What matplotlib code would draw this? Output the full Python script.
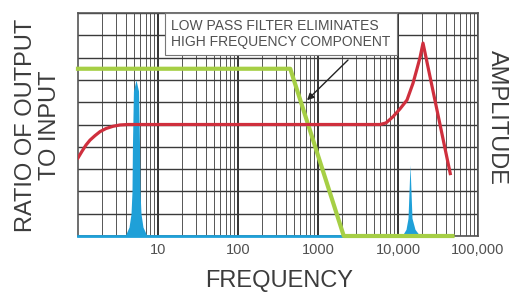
import numpy as np
import matplotlib
matplotlib.use("Agg")
import matplotlib.pyplot as plt
from matplotlib.ticker import FixedLocator, NullFormatter

plt.rcParams["font.family"] = ["Liberation Sans", "DejaVu Sans"]

# low pass filter response (green)
green_freq = [1, 450, 2100, 48000]
green_val = [7.5, 7.5, 0.0, 0.0]

# ratio curve (red)
red_freq = [1.0, 1.122, 1.259, 1.413, 1.63, 1.884, 2.24, 2.74, 3.35, 4.22,
            5960, 7080, 8660, 10590, 12960, 15400, 17280, 18840, 20540, 45000]
red_val = [3.5, 3.8, 4.08, 4.3, 4.5, 4.68, 4.82, 4.92, 4.98, 5.0,
           5.0, 5.07, 5.35, 5.7, 6.1, 6.85, 7.5, 8.0, 8.65, 2.8]

# low frequency component (blue spike)
peak1_freq = [3.87, 4.34, 4.60, 4.73, 4.79, 4.93, 5.31, 5.71, 5.88, 5.96, 6.13, 6.49, 7.30]
peak1_val = [0.0, 0.4, 1.0, 2.0, 4.0, 6.5, 7.0, 6.5, 4.0, 2.0, 1.0, 0.4, 0.0]

# high frequency component (blue spike)
peak2_freq = [11220, 12590, 13340, 13730, 14130, 14540, 14960, 16310, 18840]
peak2_val = [0.0, 0.3, 0.8, 2.0, 3.2, 2.0, 0.8, 0.3, 0.0]

baseline_freq = [1, 48000]
baseline_val = [0, 0]

tick_pos = [10, 100, 1000, 10000, 100000]
tick_labels = ["10", "100", "1000", "10,000", "100,000"]

RED = "#cf2f3d"
GREEN = "#a6cf45"
BLUE = "#1fa0d8"

fig = plt.figure(figsize=(5.16, 2.93), dpi=100)
ax = fig.add_axes([78 / 516, 1 - 236 / 293, 400 / 516, 223 / 293])

ax.set_xscale("log")
ax.set_xlim(1, 100000)
ax.set_ylim(0, 10)

# log paper grid
ax.xaxis.set_major_locator(FixedLocator(tick_pos))
ax.set_xticklabels(tick_labels)
minor = [m * 10 ** d for d in range(0, 5) for m in range(2, 10)]
ax.xaxis.set_minor_locator(FixedLocator(minor))
ax.xaxis.set_minor_formatter(NullFormatter())
ax.set_yticks(range(0, 11))
ax.set_yticklabels([])
ax.grid(True, which="major", axis="x", color="#333333", lw=1.4)
ax.grid(True, which="minor", axis="x", color="#555555", lw=0.7)
ax.grid(True, which="major", axis="y", color="#3a3a3a", lw=1.0)
ax.tick_params(which="both", length=0)
ax.tick_params(axis="x", pad=5, labelsize=10.5, labelcolor="#505050")
for s in ax.spines.values():
    s.set_color("#555555")
    s.set_linewidth(1.2)
ax.set_axisbelow(True)

ax.plot(baseline_freq, baseline_val, color=BLUE, lw=2, zorder=3, clip_on=False)
ax.fill_between(peak1_freq, 0, peak1_val, color=BLUE, lw=0, zorder=3)
ax.fill_between(peak2_freq, 0, peak2_val, color=BLUE, lw=0, zorder=3)
ax.plot(green_freq, green_val, color=GREEN, lw=3, zorder=4, clip_on=False)
ax.plot(red_freq, red_val, color=RED, lw=2.3, zorder=5)

ax.annotate("", xy=(688, 6.0), xytext=(2512, 7.98),
            arrowprops=dict(arrowstyle="-|>", color="#222222", lw=1.0,
                            mutation_scale=10), zorder=6)
ax.text(14.5, 9.05, "LOW PASS FILTER ELIMINATES\nHIGH FREQUENCY COMPONENT",
        fontsize=10, color="#505050", ha="left", va="center", linespacing=1.15,
        bbox=dict(boxstyle="square,pad=0.45", fc="white", ec="#777777", lw=0.8),
        zorder=7)

fig.text(38 / 516, 1 - 125 / 293, "RATIO OF OUTPUT\nTO INPUT", rotation=90,
         ha="center", va="center", multialignment="center", fontsize=17,
         color="#3c3c3c", linespacing=1.1)
fig.text(497 / 516, 1 - 118 / 293, "AMPLITUDE", rotation=-90, ha="center",
         va="center", fontsize=17, color="#3c3c3c")
fig.text(279 / 516, 1 - 281 / 293, "FREQUENCY", ha="center", va="center",
         fontsize=17, color="#3c3c3c")

fig.savefig("out.png", dpi=100)
